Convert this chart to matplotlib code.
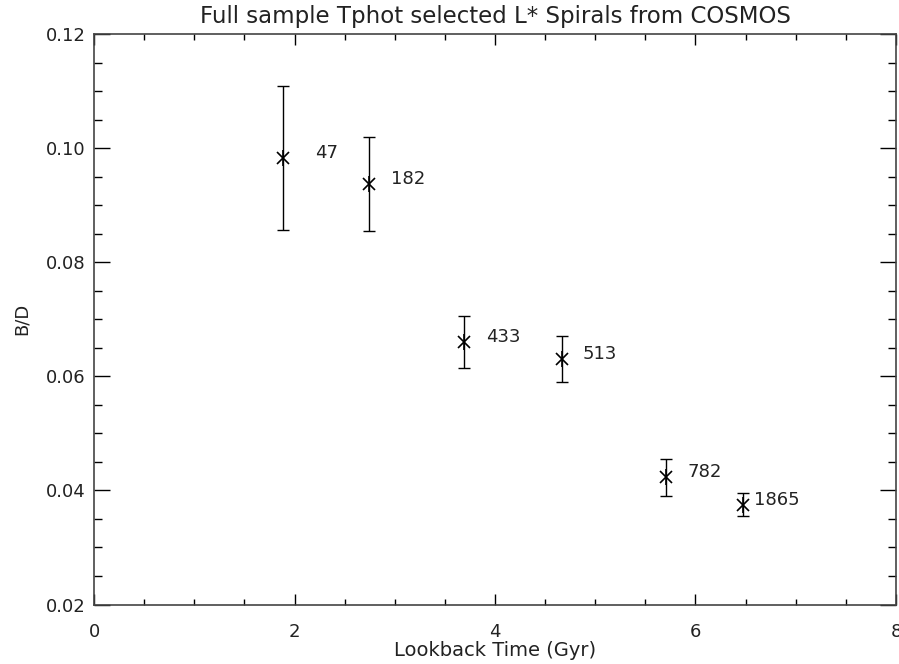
import matplotlib
matplotlib.use("Agg")
import matplotlib.pyplot as plt
from matplotlib.ticker import MultipleLocator

# lookback time (Gyr), B/D ratio, error and sample size per bin
lookback = [1.885, 2.743, 3.69, 4.67, 5.71, 6.477]
bd = [0.0982, 0.0937, 0.0660, 0.0630, 0.0423, 0.0375]
bd_err = [0.0126, 0.0083, 0.0045, 0.0040, 0.0032, 0.0020]
counts = ["47", "182", "433", "513", "782", "1865"]
label_offsets = [23, 16, 16, 15, 15, 8]

plt.rcParams["font.family"] = "DejaVu Sans"

fig = plt.figure(figsize=(8.99, 6.64), dpi=100)
ax = fig.add_axes([0.1046, 0.0896, 0.892, 0.8592])

ax.errorbar(lookback, bd, yerr=bd_err, fmt="none", ecolor="black",
            elinewidth=1.0, capsize=4, capthick=1.0)
# asterisk = cross + vertical stroke
ax.plot(lookback, bd, linestyle="none", marker="x", markersize=9,
        markeredgewidth=1.2, color="black")
ax.plot(lookback, bd, linestyle="none", marker="|", markersize=11,
        markeredgewidth=1.2, color="black")

for x, y, s, off in zip(lookback, bd, counts, label_offsets):
    ax.annotate(s, (x, y), xytext=(off, 0), textcoords="offset points",
                fontsize=13, va="baseline", ha="left", color="#222222")

ax.set_xlim(0, 8)
ax.set_ylim(0.02, 0.12)
ax.xaxis.set_major_locator(MultipleLocator(2))
ax.xaxis.set_minor_locator(MultipleLocator(0.5))
ax.yaxis.set_major_locator(MultipleLocator(0.02))
ax.yaxis.set_minor_locator(MultipleLocator(0.005))
ax.yaxis.set_major_formatter(matplotlib.ticker.FormatStrFormatter("%.2f"))

ax.tick_params(which="both", direction="in", top=True, right=True,
               color="black", width=1.0, labelsize=13, labelcolor="#222222")
ax.tick_params(axis="y", which="major", length=11.5, pad=6)
ax.tick_params(axis="y", which="minor", length=6)
ax.tick_params(axis="x", which="major", length=8, pad=13)
ax.tick_params(axis="x", which="minor", length=4)

for sp in ax.spines.values():
    sp.set_color("#444444")
    sp.set_linewidth(1.2)

ax.set_title("Full sample Tphot selected L* Spirals from COSMOS",
             fontsize=16.5, pad=8, color="#222222")
ax.set_xlabel("Lookback Time (Gyr)", fontsize=14, labelpad=0, color="#222222")
ax.set_ylabel("B/D", fontsize=13, labelpad=11, color="#222222")

fig.savefig("out.png", dpi=100)
